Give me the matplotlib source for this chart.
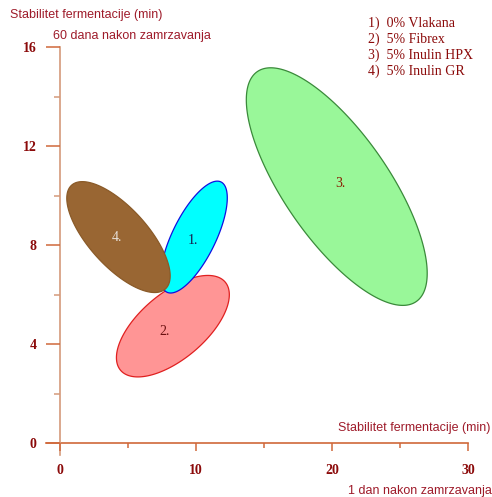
import numpy as np
import matplotlib
matplotlib.use("Agg")
import matplotlib.pyplot as plt
from matplotlib.patches import Polygon

# Ellipse summaries: centre, half-extent along x and y, correlation
labels = ["1.", "2.", "3.", "4."]
center_x = [9.85, 8.30, 20.35, 4.30]
center_y = [8.32, 4.72, 10.36, 8.32]
spread_x = [2.45, 4.15, 6.65, 3.80]
spread_y = [2.26, 2.05, 4.80, 2.24]
corr = [0.70, 0.62, -0.73, -0.70]
label_x = [9.8, 7.7, 20.6, 4.2]
label_y = [8.2, 4.5, 10.5, 8.3]

legend_items = ["1)  0% Vlakana", "2)  5% Fibrex", "3)  5% Inulin HPX", "4)  5% Inulin GR"]

x_ticks = [0, 10, 20, 30]
y_ticks = [0, 4, 8, 12, 16]

fills = ["#00FFFF", "#FF9595", "#99F799", "#996633"]
edges = ["#1010E0", "#E02020", "#3A8A3A", "#8A5A28"]
label_colors = ["#1A1A4A", "#6A1010", "#8B1A00", "#E8E0D8"]
draw_order = [1, 0, 3, 2]

dark_red = "#8B0A0A"
title_red = "#9E1B2A"

fig = plt.figure(figsize=(4.92, 4.97), dpi=100)
W, H = 492, 497
ax = fig.add_axes([60 / W, (H - 443) / H, 408 / W, 396 / H])
ax.set_xlim(0, 30)
ax.set_ylim(0, 16)
ax.patch.set_alpha(0)

t = np.linspace(0, 2 * np.pi, 400)
for i in draw_order:
    r = corr[i]
    xs = center_x[i] + spread_x[i] * np.cos(t)
    ys = center_y[i] + spread_y[i] * (r * np.cos(t) + np.sqrt(1 - r * r) * np.sin(t))
    ax.add_patch(Polygon(np.column_stack([xs, ys]), closed=True,
                         facecolor=fills[i], edgecolor=edges[i], lw=0.9, zorder=2))
    ax.text(label_x[i], label_y[i], labels[i], color=label_colors[i],
            family="Liberation Serif", fontsize=10, ha="center", va="center", zorder=3)

# axes drawn as plain lines with a small overhang past the origin
for s in ax.spines.values():
    s.set_visible(False)
x_col = "#D0683A"
y_col = "#D49A7A"
ax.plot([-1.0, 30], [0, 0], color=x_col, lw=1.2, clip_on=False, zorder=1)
ax.plot([0, 0], [-0.5, 16], color=y_col, lw=1.2, clip_on=False, zorder=1)

ax.set_xticks(x_ticks)
ax.set_xticks([5, 15, 25], minor=True)
ax.set_yticks(y_ticks)
ax.set_yticks([2, 6, 10, 14], minor=True)
ax.tick_params(axis="x", which="major", direction="out", length=6, width=1.1,
               color=x_col, pad=9, labelcolor=dark_red)
ax.tick_params(axis="x", which="minor", direction="out", length=3.5, width=1.1, color=x_col)
ax.tick_params(axis="y", which="major", direction="out", length=10, width=1.1,
               color=x_col, pad=7, labelcolor=dark_red)
ax.tick_params(axis="y", which="minor", direction="out", length=4.5, width=1.1, color=y_col)
for lab in ax.get_xticklabels() + ax.get_yticklabels():
    lab.set_family("Liberation Serif")
    lab.set_fontweight("bold")
    lab.set_fontsize(10)

# axis titles
fig.text(10 / W, 1 - 15 / H, "Stabilitet fermentacije (min)", color=title_red,
         family="Liberation Sans", fontsize=9, ha="left", va="center")
fig.text(53 / W, 1 - 36 / H, "60 dana nakon zamrzavanja", color=title_red,
         family="Liberation Sans", fontsize=9, ha="left", va="center")
fig.text(490 / W, 1 - 428 / H, "Stabilitet fermentacije (min)", color=title_red,
         family="Liberation Sans", fontsize=9, ha="right", va="center")
fig.text(492 / W, 1 - 491 / H, "1 dan nakon zamrzavanja", color=title_red,
         family="Liberation Sans", fontsize=9, ha="right", va="center")

# legend block
for k, item in enumerate(legend_items):
    fig.text(368 / W, 1 - (23 + 16 * k) / H, item, color=dark_red,
             family="Liberation Serif", fontsize=10, ha="left", va="center")

fig.savefig("out.png", dpi=100)
